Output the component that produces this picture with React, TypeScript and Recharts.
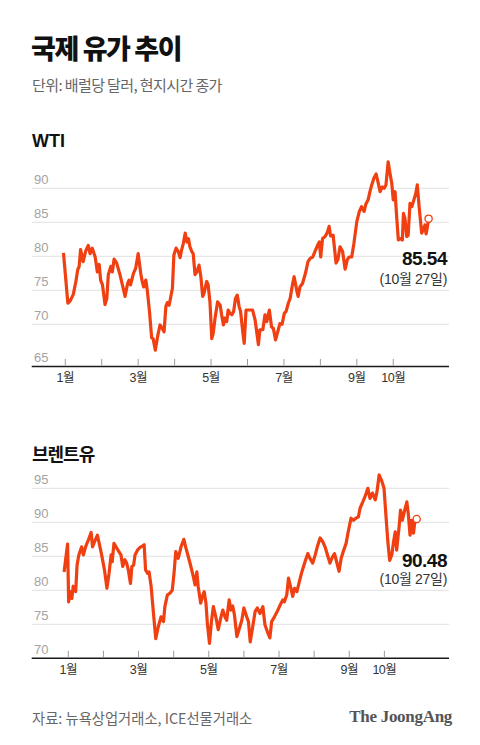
import React from "react";
import { LineChart, Line, XAxis, YAxis, ReferenceLine, ReferenceDot } from "recharts";

// month position (0 = 1월 tick, 9 = 10월 tick), price in USD/bbl
const wtiMonth = [
  -0.05, 0.07, 0.13, 0.22, 0.29, 0.34, 0.38, 0.42, 0.49, 0.56, 0.63, 0.68, 0.74, 0.82, 0.88, 0.93, 0.97,
  1.02, 1.09, 1.14, 1.18, 1.25, 1.29, 1.34, 1.41, 1.5, 1.58, 1.64, 1.71, 1.75, 1.79, 1.87, 1.93,
  2.0, 2.07, 2.11, 2.15, 2.21, 2.25, 2.31, 2.37, 2.41, 2.47, 2.54, 2.6, 2.66, 2.71, 2.76, 2.8, 2.85, 2.89, 2.94, 2.98,
  3.04, 3.1, 3.15, 3.19, 3.24, 3.29, 3.34, 3.38, 3.42, 3.47, 3.51, 3.56, 3.61, 3.67, 3.72, 3.77, 3.81, 3.88, 3.92, 3.97,
  4.02, 4.06, 4.11, 4.18, 4.25, 4.29, 4.34, 4.38, 4.43, 4.47, 4.52, 4.57, 4.62, 4.67, 4.72, 4.77, 4.81, 4.87, 4.91, 4.96,
  5.14, 5.21, 5.3, 5.34, 5.42, 5.48, 5.53, 5.6, 5.66, 5.71, 5.77, 5.83, 5.89, 5.95,
  6.01, 6.06, 6.12, 6.17, 6.24, 6.28, 6.35, 6.39, 6.44, 6.51, 6.59, 6.66, 6.72, 6.79, 6.85, 6.93, 6.97,
  7.01, 7.06, 7.13, 7.19, 7.24, 7.28, 7.35, 7.43, 7.48, 7.54, 7.61, 7.68, 7.74, 7.79, 7.86, 7.92,
  8.0, 8.07, 8.13, 8.2, 8.25, 8.31, 8.36, 8.41, 8.47, 8.53, 8.57, 8.64, 8.7, 8.75, 8.8, 8.86, 8.91, 8.96,
  9.0, 9.05, 9.09, 9.14, 9.2, 9.25, 9.28, 9.32, 9.37, 9.41, 9.46, 9.51, 9.55, 9.62, 9.66, 9.71, 9.78, 9.82, 9.87, 9.9, 9.93, 9.97,
];
const wtiPrice = [
  80.5, 73.1, 73.4, 74.4, 76.3, 78.0, 78.5, 81.0, 79.2, 80.8, 81.6, 80.4, 81.2, 79.9, 77.7, 78.8, 76.5,
  75.8, 72.9, 73.8, 77.3, 78.5, 77.7, 79.6, 79.0, 77.3, 75.5, 74.1, 76.0, 76.5, 75.8, 77.5, 78.2,
  80.4, 77.5, 76.3, 75.5, 76.5, 75.0, 71.9, 68.0, 67.9, 66.2, 68.4, 69.9, 69.4, 68.9, 72.6, 73.2, 72.8, 73.9, 75.3, 80.2,
  81.2, 80.7, 79.8, 80.9, 81.9, 83.4, 82.1, 82.6, 81.4, 80.7, 80.4, 77.3, 77.7, 78.7, 77.0, 74.1, 74.6, 76.3, 75.8, 73.3,
  67.9, 68.7, 70.9, 73.3, 72.8, 71.4, 69.9, 70.9, 70.4, 72.1, 71.6, 71.4, 71.9, 73.8, 74.3, 72.6, 71.9, 68.9, 67.2, 72.1,
  72.1, 70.6, 67.0, 69.2, 69.2, 71.4, 70.4, 72.1, 69.6, 69.4, 67.7, 68.9, 70.1, 70.0,
  71.6, 71.9, 73.1, 73.8, 76.0, 77.0, 75.0, 74.1, 75.5, 76.0, 77.5, 79.2, 79.7, 79.9, 80.7, 81.7, 82.1,
  79.9, 82.6, 82.9, 83.5, 84.4, 83.0, 83.1, 79.0, 79.5, 81.4, 80.7, 78.1, 79.5, 79.9, 79.9, 81.9,
  85.1, 86.6, 87.3, 86.6, 87.7, 88.3, 89.5, 90.5, 91.5, 92.1, 91.2, 89.5, 90.2, 90.0, 90.5, 93.9, 92.2, 90.7,
  88.3, 89.5, 86.1, 82.4, 82.6, 82.4, 86.3, 85.6, 82.9, 83.1, 87.8, 87.3, 88.0, 89.3, 90.5, 87.3, 83.4, 83.9, 84.6, 83.3, 84.1, 85.54,
];

const brentMonth = [
  -0.12, -0.02, 0.01, 0.05, 0.1, 0.14, 0.21, 0.25, 0.3, 0.38, 0.43, 0.5, 0.57, 0.65, 0.69, 0.76, 0.83, 0.88, 0.95,
  1.03, 1.1, 1.16, 1.22, 1.25, 1.3, 1.38, 1.44, 1.5, 1.55, 1.61, 1.66, 1.71, 1.77, 1.81, 1.86, 1.9, 1.97,
  2.04, 2.11, 2.16, 2.2, 2.26, 2.3, 2.36, 2.42, 2.49, 2.56, 2.64, 2.71, 2.75, 2.82, 2.9, 2.96,
  3.01, 3.06, 3.13, 3.21, 3.29, 3.35, 3.42, 3.49, 3.56, 3.61, 3.66, 3.7, 3.77, 3.82, 3.87, 3.92, 3.96,
  4.02, 4.08, 4.13, 4.2, 4.27, 4.34, 4.4, 4.46, 4.51, 4.58, 4.63, 4.68, 4.73, 4.8, 4.86, 4.94,
  5.0, 5.08, 5.13, 5.18, 5.25, 5.32, 5.38, 5.46, 5.54, 5.6, 5.67, 5.74, 5.79, 5.87, 5.95,
  6.03, 6.11, 6.15, 6.22, 6.27, 6.33, 6.39, 6.44, 6.51, 6.58, 6.65, 6.74, 6.82, 6.88, 6.96,
  7.03, 7.09, 7.17, 7.25, 7.31, 7.38, 7.45, 7.52, 7.58, 7.64, 7.71, 7.77, 7.83, 7.91, 7.97,
  8.05, 8.12, 8.19, 8.26, 8.31, 8.37, 8.45, 8.53, 8.59, 8.66, 8.74, 8.79, 8.85, 8.93, 8.99,
  9.05, 9.1, 9.15, 9.21, 9.26, 9.31, 9.35, 9.42, 9.46, 9.51, 9.57, 9.64, 9.68, 9.73, 9.78, 9.83, 9.87, 9.92,
];
const brentPrice = [
  82.7, 86.8, 78.3, 79.8, 78.8, 80.6, 79.8, 83.7, 85.2, 86.4, 85.2, 86.5, 87.4, 88.5, 86.4, 87.3, 88.1, 86.9, 85.2,
  83.0, 80.3, 82.5, 85.2, 84.2, 86.9, 86.2, 85.7, 85.2, 83.5, 84.5, 84.0, 83.0, 81.0, 83.5, 83.7, 85.2, 85.9,
  86.3, 86.5, 86.7, 83.0, 82.5, 82.7, 80.5, 76.9, 72.9, 74.6, 76.1, 75.4, 77.6, 79.3, 79.6, 80.0,
  82.5, 85.7, 84.7, 86.4, 87.5, 86.2, 84.9, 83.5, 82.0, 80.8, 82.7, 80.5, 78.1, 79.1, 79.8, 78.1, 75.1,
  72.2, 75.6, 77.6, 76.1, 74.2, 75.9, 77.1, 76.1, 75.6, 78.6, 77.1, 77.7, 76.4, 73.2, 74.2, 75.6,
  77.4, 76.1, 75.4, 72.4, 74.6, 76.9, 77.4, 76.6, 77.6, 74.9, 73.9, 73.0, 75.4, 76.1, 76.9,
  77.8, 78.6, 78.3, 79.3, 81.8, 80.5, 79.1, 80.3, 79.8, 81.3, 82.7, 84.2, 85.4, 84.7, 84.0,
  85.2, 86.4, 87.7, 87.1, 86.4, 85.2, 84.0, 84.9, 85.4, 84.2, 82.8, 84.7, 85.7, 86.9, 88.6,
  90.6, 90.3, 90.6, 90.8, 92.1, 92.8, 93.8, 95.0, 93.5, 94.3, 93.3, 94.5, 96.96, 96.0, 95.0,
  90.6, 87.1, 84.4, 85.2, 87.1, 88.6, 85.9, 89.4, 91.8, 90.3, 91.6, 93.0, 91.3, 88.1, 90.3, 88.4, 90.3, 90.48,
];

const monthTicks = [0, 1, 2, 3, 4, 5, 6, 7, 8, 9];
const monthLabels = ["1월", "", "3월", "", "5월", "", "7월", "", "9월", "10월"];
const wtiTicks = [65, 70, 75, 80, 85, 90];
const brentTicks = [70, 75, 80, 85, 90, 95];
const lastDateLabel = "(10월 27일)";

const ORANGE = "#f03f10";
const KR = '"Noto Sans CJK KR", sans-serif';
const NUM = '"Liberation Sans", "Noto Sans CJK KR", sans-serif';

type PanelProps = {
  months: number[];
  prices: number[];
  ticks: number[];
  yDomain: [number, number];
  xDomain: [number, number];
  top: number;
  plotTop: number;
  plotBottom: number;
};

const CH_W = 480;
const CH_H = 280;
const PLOT_LEFT = 31.7;
const PLOT_RIGHT = 449;
const X_AXIS_H = 24;
const Y_AXIS_W = 4;

function Panel({ months, prices, ticks, yDomain, xDomain, top, plotTop, plotBottom }: PanelProps) {
  const data = months.map((m, i) => ({ m, v: prices[i] }));
  const margin = {
    top: plotTop,
    right: CH_W - PLOT_RIGHT,
    bottom: CH_H - plotBottom - X_AXIS_H,
    left: PLOT_LEFT - Y_AXIS_W,
  };
  const last = data[data.length - 1];
  const YTick = (props: any) => {
    const { y, index, payload } = props;
    const ty = index === 0 ? plotBottom - 4 : y - 4.5;
    return (
      <text x={34} y={ty} fontSize={13} fill="#a3a3a3" fontFamily={NUM} textAnchor="start">
        {payload.value}
      </text>
    );
  };
  const XTick = (props: any) => {
    const { x, payload } = props;
    const lab = monthLabels[payload.value] ?? "";
    const y = plotBottom;
    return (
      <g>
        <line x1={x} x2={x} y1={y - 7.5} y2={y - 1} stroke="#9a9a9a" strokeWidth={1} />
        {lab ? (
          <text x={x} y={y + 16} fontSize={12.5} fill="#333" fontFamily={NUM} textAnchor="middle" letterSpacing={-0.5}>
            {lab}
          </text>
        ) : null}
      </g>
    );
  };
  return (
    <div style={{ position: "absolute", left: 0, top, width: CH_W, height: CH_H }}>
      <LineChart width={CH_W} height={CH_H} data={data} margin={margin}>
        {ticks.slice(1).map((t) => (
          <ReferenceLine key={t} y={t} stroke="#e2e2e2" strokeWidth={1} />
        ))}
        <XAxis
          dataKey="m"
          type="number"
          domain={xDomain}
          ticks={monthTicks}
          interval={0}
          height={X_AXIS_H}
          tickSize={0}
          tickMargin={0}
          tickLine={false}
          axisLine={{ stroke: "#1a1a1a", strokeWidth: 1.5 }}
          tick={XTick}
        />
        <YAxis
          type="number"
          domain={yDomain}
          ticks={ticks}
          interval={0}
          width={Y_AXIS_W}
          tickSize={0}
          tickMargin={0}
          axisLine={false}
          tickLine={false}
          tick={YTick}
        />
        <Line
          type="linear"
          dataKey="v"
          stroke={ORANGE}
          strokeWidth={3.2}
          strokeLinejoin="round"
          dot={false}
          isAnimationActive={false}
        />
        <ReferenceDot x={last.m} y={last.v} r={3.6} fill="#fff" stroke={ORANGE} strokeWidth={1.3} />
      </LineChart>
    </div>
  );
}

export default function App() {
  const wtiLast = wtiPrice[wtiPrice.length - 1].toFixed(2);
  const brentLast = brentPrice[brentPrice.length - 1].toFixed(2);
  return (
    <div style={{ position: "absolute", left: 0, top: 0, width: 480, height: 745, background: "#fff", overflow: "hidden" }}>
      <Panel
        months={wtiMonth}
        prices={wtiPrice}
        ticks={wtiTicks}
        yDomain={[63.8, 95]}
        xDomain={[-0.922, 10.53]}
        top={120}
        plotTop={34.3}
        plotBottom={246.46}
      />
      <Panel
        months={brentMonth}
        prices={brentPrice}
        ticks={brentTicks}
        yDomain={[70, 98]}
        xDomain={[-1.042, 10.84]}
        top={420}
        plotTop={47.9}
        plotBottom={238.3}
      />
      <svg width={480} height={745} style={{ position: "absolute", left: 0, top: 0, pointerEvents: "none" }}>
        <text x={31} y={58.5} fontSize={27} fontWeight={900} fill="#111" fontFamily={KR} letterSpacing={-1.4}>
          국제 유가 추이
        </text>
        <text x={32} y={91} fontSize={15} fill="#666" fontFamily={KR} letterSpacing={-0.6}>
          단위: 배럴당 달러, 현지시간 종가
        </text>
        <text x={32} y={147} fontSize={18} fontWeight={700} fill="#111" fontFamily={NUM}>
          WTI
        </text>
        <text x={32} y={461} fontSize={18} fontWeight={700} fill="#111" fontFamily={KR} letterSpacing={-1}>
          브렌트유
        </text>
        <text x={447} y={265} fontSize={19} fontWeight={700} fill="#111" fontFamily={NUM} textAnchor="end" letterSpacing={-0.5}>
          {wtiLast}
        </text>
        <text x={447} y={283.5} fontSize={14} fill="#333" fontFamily={NUM} textAnchor="end" letterSpacing={-0.3}>
          {lastDateLabel}
        </text>
        <text x={447} y={566.5} fontSize={19} fontWeight={700} fill="#111" fontFamily={NUM} textAnchor="end" letterSpacing={-0.5}>
          {brentLast}
        </text>
        <text x={447} y={584} fontSize={14} fill="#333" fontFamily={NUM} textAnchor="end" letterSpacing={-0.3}>
          {lastDateLabel}
        </text>
        <text x={32} y={724} fontSize={14.3} fill="#666" fontFamily={KR} letterSpacing={0}>
          자료: 뉴욕상업거래소, ICE선물거래소
        </text>
        <text x={452} y={721.5} fontSize={17} fontWeight={700} fill="#555" fontFamily='"Liberation Serif", "DejaVu Serif", serif' textAnchor="end" letterSpacing={-0.3}>
          The JoongAng
        </text>
      </svg>
    </div>
  );
}
